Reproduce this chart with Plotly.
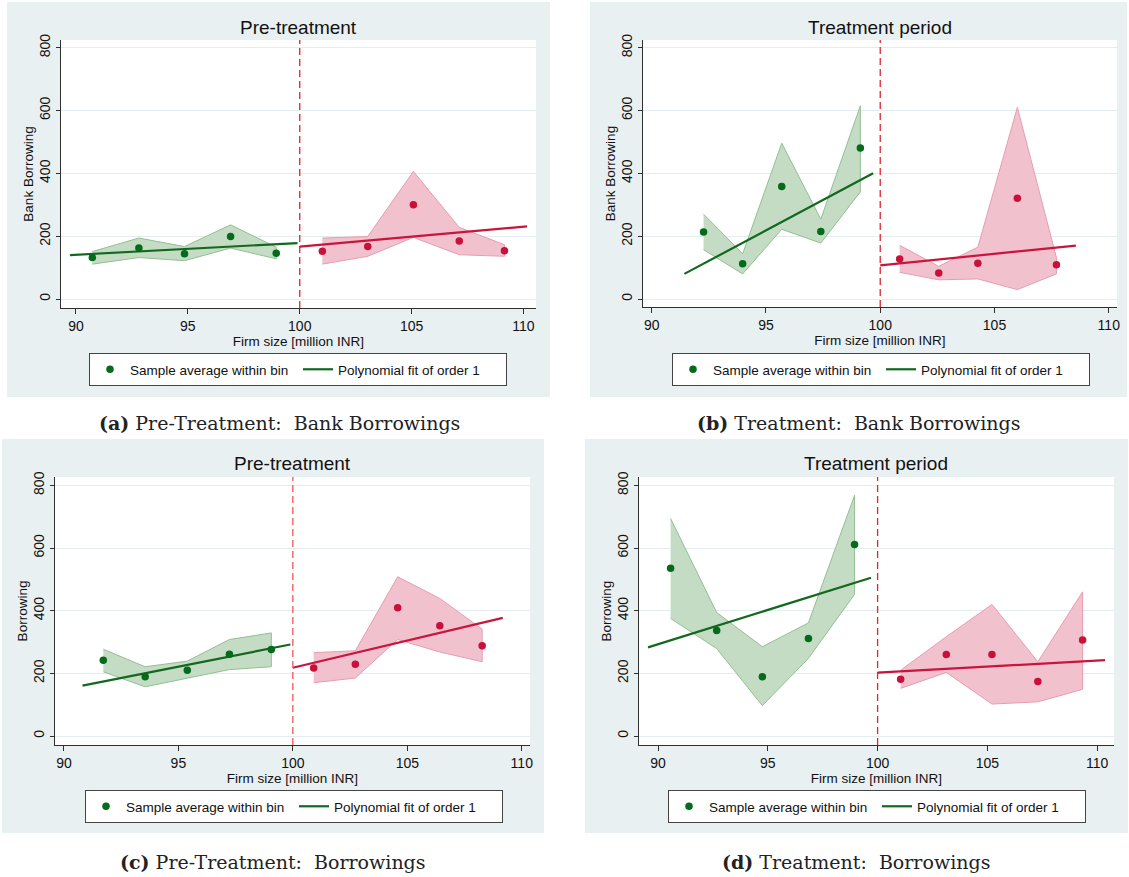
import plotly.graph_objects as go

W, H = 1129, 877

# ---------------- panel (a): pre-treatment, bank borrowing ----------------
A_L_X = [90.73, 92.81, 94.85, 96.91, 98.95]
A_L_MEAN = [132, 162, 144, 199, 146]
A_L_LO = [111, 132, 122, 162, 128]
A_L_HI = [151, 194, 167, 236, 165]
A_R_X = [101.01, 103.04, 105.08, 107.13, 109.15]
A_R_MEAN = [152, 167, 300, 185, 154]
A_R_LO = [111, 136, 196, 141, 136]
A_R_HI = [194, 199, 406, 228, 173]
A_FIT_L_X = [89.73, 99.9]
A_FIT_L_Y = [140, 178]
A_FIT_R_X = [100.0, 110.16]
A_FIT_R_Y = [167, 231]

# ---------------- panel (b): treatment period, bank borrowing ----------------
B_L_X = [92.27, 93.98, 95.69, 97.40, 99.13]
B_L_MEAN = [213, 112, 358, 215, 481]
B_L_LO = [157, 80, 222, 178, 341]
B_L_HI = [270, 144, 496, 254, 615]
B_R_X = [100.85, 102.56, 104.27, 106.00, 107.71]
B_R_MEAN = [127, 83, 114, 321, 109]
B_R_LO = [85, 61, 64, 30, 80]
B_R_HI = [171, 104, 165, 610, 132]
B_FIT_L_X = [91.43, 99.69]
B_FIT_L_Y = [80, 400]
B_FIT_R_X = [100.0, 108.56]
B_FIT_R_Y = [107, 170]

# ---------------- panel (c): pre-treatment, borrowing ----------------
C_L_X = [91.72, 93.55, 95.39, 97.23, 99.06]
C_L_MEAN = [242, 189, 210, 261, 276]
C_L_LO = [205, 157, 184, 212, 221]
C_L_HI = [277, 221, 239, 308, 329]
C_R_X = [100.91, 102.73, 104.58, 106.42, 108.27]
C_R_MEAN = [217, 229, 409, 352, 288]
C_R_LO = [170, 185, 308, 268, 237]
C_R_HI = [266, 272, 508, 439, 341]
C_FIT_L_X = [90.81, 99.89]
C_FIT_L_Y = [161, 292]
C_FIT_R_X = [100.0, 109.17]
C_FIT_R_Y = [218, 377]

# ---------------- panel (d): treatment period, borrowing ----------------
D_L_X = [90.57, 92.67, 94.75, 96.85, 98.95]
D_L_MEAN = [535, 337, 189, 311, 611]
D_L_LO = [375, 279, 97, 248, 452]
D_L_HI = [694, 394, 285, 361, 768]
D_R_X = [101.05, 103.13, 105.21, 107.30, 109.34]
D_R_MEAN = [181, 260, 260, 174, 306]
D_R_LO = [152, 203, 102, 109, 149]
D_R_HI = [210, 317, 420, 237, 460]
D_FIT_L_X = [89.54, 99.7]
D_FIT_L_Y = [283, 505]
D_FIT_R_X = [100.0, 110.36]
D_FIT_R_Y = [202, 242]

CUTOFF = 100
X_TICKS = [90, 95, 100, 105, 110]
Y_TICKS = [0, 200, 400, 600, 800]

PANEL_TITLES = ["Pre-treatment", "Treatment period", "Pre-treatment", "Treatment period"]
Y_TITLES = ["Bank Borrowing", "Bank Borrowing", "Borrowing", "Borrowing"]
X_TITLE = "Firm size [million INR]"
CAPTION_TAGS = ["(a)", "(b)", "(c)", "(d)"]
CAPTIONS = ["Pre-Treatment:  Bank Borrowings", "Treatment:  Bank Borrowings",
            "Pre-Treatment:  Borrowings", "Treatment:  Borrowings"]
LEGEND_LABELS = ["Sample average within bin", "Polynomial fit of order 1"]

# colours
BG = "#E9F0F2"
GRID = "#E3ECEF"
AXIS = "#2F2F2F"
G_DOT = "#046A1C"
G_LINE = "#11681E"
G_FILL = "#C4DCC3"
G_EDGE = "#93BF93"
R_DOT = "#C8103A"
R_LINE = "#C9143E"
R_FILL = "#F1C2CE"
R_EDGE = "#E79DB0"
CUT_COLORS = ["#E3232B", "#E0262E", "#F5545A", "#E0262E"]

SANS = "Arial, Liberation Sans, sans-serif"
SERIF = "DejaVu Serif, serif"

# pixel geometry of each panel: background box, plot box, axis ranges, legend corner
GEOM = [
    dict(bg=(7, 2, 550, 397), plot=(61, 40, 536, 308), xr=(89.33, 110.56), yr=(-28.6, 824.4),
         leg=(89, 353), title=(298, 28), cap=(279, 423)),
    dict(bg=(590, 2, 1127, 397), plot=(643, 40, 1117, 307), xr=(89.62, 110.36), yr=(-25.4, 824.4),
         leg=(672, 353), title=(880, 28), cap=(858, 423)),
    dict(bg=(2, 439, 544, 833), plot=(55, 477, 530, 745), xr=(89.61, 110.36), yr=(-28.7, 826.6),
         leg=(85, 790), title=(292, 464), cap=(273, 862)),
    dict(bg=(585, 439, 1128, 833), plot=(639, 477, 1114, 745), xr=(89.13, 110.77), yr=(-28.7, 826.6),
         leg=(668, 790), title=(876, 464), cap=(856, 862)),
]

PANELS = [
    (A_L_X, A_L_MEAN, A_L_LO, A_L_HI, A_R_X, A_R_MEAN, A_R_LO, A_R_HI,
     A_FIT_L_X, A_FIT_L_Y, A_FIT_R_X, A_FIT_R_Y),
    (B_L_X, B_L_MEAN, B_L_LO, B_L_HI, B_R_X, B_R_MEAN, B_R_LO, B_R_HI,
     B_FIT_L_X, B_FIT_L_Y, B_FIT_R_X, B_FIT_R_Y),
    (C_L_X, C_L_MEAN, C_L_LO, C_L_HI, C_R_X, C_R_MEAN, C_R_LO, C_R_HI,
     C_FIT_L_X, C_FIT_L_Y, C_FIT_R_X, C_FIT_R_Y),
    (D_L_X, D_L_MEAN, D_L_LO, D_L_HI, D_R_X, D_R_MEAN, D_R_LO, D_R_HI,
     D_FIT_L_X, D_FIT_L_Y, D_FIT_R_X, D_FIT_R_Y),
]


def px(x):
    return x / W


def py(y):
    return 1 - y / H


fig = go.Figure()
shapes = []
annotations = []
layout = {}

for i, (data, g) in enumerate(zip(PANELS, GEOM)):
    (lx, lm, llo, lhi, rx, rm, rlo, rhi, flx, fly, frx, fry) = data
    n = "" if i == 0 else str(i + 1)
    xa, ya = "x" + n, "y" + n
    leg = "legend" + n

    # confidence bands
    for xs, lo, hi, fill, edge in ((lx, llo, lhi, G_FILL, G_EDGE), (rx, rlo, rhi, R_FILL, R_EDGE)):
        fig.add_trace(go.Scatter(
            x=xs + xs[::-1], y=hi + lo[::-1], mode="lines", fill="toself",
            fillcolor=fill, line=dict(color=edge, width=1), hoverinfo="skip",
            showlegend=False, xaxis=xa, yaxis=ya))

    # linear fits on each side of the cutoff
    fig.add_trace(go.Scatter(x=frx, y=fry, mode="lines", line=dict(color=R_LINE, width=2.2),
                             showlegend=False, xaxis=xa, yaxis=ya))
    fig.add_trace(go.Scatter(x=flx, y=fly, mode="lines", line=dict(color=G_LINE, width=2.2),
                             name=LEGEND_LABELS[1], showlegend=True, legend=leg,
                             legendrank=2, xaxis=xa, yaxis=ya))

    # bin means
    fig.add_trace(go.Scatter(x=rx, y=rm, mode="markers", marker=dict(color=R_DOT, size=7.5),
                             showlegend=False, xaxis=xa, yaxis=ya))
    fig.add_trace(go.Scatter(x=lx, y=lm, mode="markers", marker=dict(color=G_DOT, size=7.5),
                             name=LEGEND_LABELS[0], showlegend=True, legend=leg,
                             legendrank=1, xaxis=xa, yaxis=ya))

    x0, y0, x1, y1 = g["plot"]
    layout["xaxis" + n] = dict(
        domain=[px(x0), px(x1)], range=list(g["xr"]), anchor=ya,
        tickvals=X_TICKS, ticks="outside", ticklen=5, tickcolor=AXIS,
        showline=True, linecolor=AXIS, linewidth=1, showgrid=False, zeroline=False,
        tickfont=dict(family=SANS, size=14, color="#111"),
        title=dict(text=X_TITLE, font=dict(family=SANS, size=13.5, color="#111"), standoff=1))
    layout["yaxis" + n] = dict(
        domain=[py(y1), py(y0)], range=list(g["yr"]), anchor=xa,
        tickvals=Y_TICKS, ticks="outside", ticklen=4, tickcolor=AXIS, tickangle=-90,
        showline=True, linecolor=AXIS, linewidth=1, showgrid=True, gridcolor=GRID,
        gridwidth=1, zeroline=False,
        tickfont=dict(family=SANS, size=14, color="#111"),
        title=dict(text=Y_TITLES[i], font=dict(family=SANS, size=13.5, color="#111"), standoff=0))

    lx0, ly0 = g["leg"]
    layout[leg] = dict(
        x=px(lx0), y=py(ly0), xanchor="left", yanchor="top", orientation="h",
        bgcolor="white", bordercolor="#444", borderwidth=1, entrywidth=163,
        font=dict(family=SANS, size=13.5, color="#111"), traceorder="normal")

    # graph region background and white plot region
    bx0, by0, bx1, by1 = g["bg"]
    shapes.append(dict(type="rect", xref="paper", yref="paper", x0=px(bx0), x1=px(bx1),
                       y0=py(by1), y1=py(by0), fillcolor=BG, line=dict(width=0), layer="below"))
    shapes.append(dict(type="rect", xref="paper", yref="paper", x0=px(x0), x1=px(x1),
                       y0=py(y1), y1=py(y0), fillcolor="white", line=dict(width=0), layer="below"))

    # cutoff marker
    shapes.append(dict(type="line", xref=xa, yref=ya + " domain", x0=CUTOFF, x1=CUTOFF,
                       y0=0, y1=1, line=dict(color=CUT_COLORS[i], width=1.3, dash="7px,4px"),
                       layer="above"))

    tx, ty = g["title"]
    annotations.append(dict(text=PANEL_TITLES[i], xref="paper", yref="paper", x=px(tx), y=py(ty),
                            xanchor="center", yanchor="middle", showarrow=False,
                            font=dict(family=SANS, size=19, color="#111")))
    cx, cy = g["cap"]
    annotations.append(dict(text="<b>" + CAPTION_TAGS[i] + "</b> " + CAPTIONS[i], xref="paper",
                            yref="paper", x=px(cx), y=py(cy), xanchor="center", yanchor="middle",
                            showarrow=False, font=dict(family=SERIF, size=19, color="#222")))

fig.update_layout(
    width=W, height=H, margin=dict(l=0, r=0, t=0, b=0, autoexpand=False),
    paper_bgcolor="white", plot_bgcolor="rgba(0,0,0,0)",
    shapes=shapes, annotations=annotations, **layout)

fig.write_html("out.html")
